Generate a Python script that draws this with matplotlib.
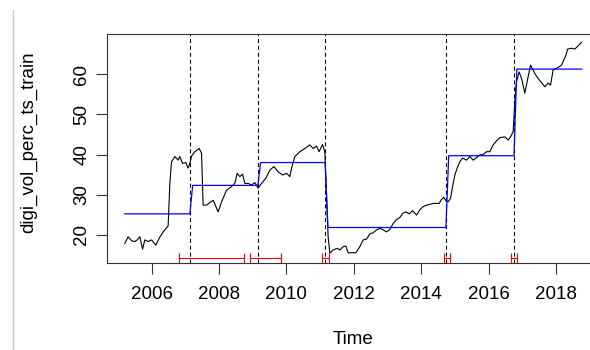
import numpy as np
import matplotlib
matplotlib.use("Agg")
import matplotlib.pyplot as plt
from matplotlib.lines import Line2D

plt.rcParams["font.family"] = ["Liberation Sans", "DejaVu Sans"]

# -- observed series (decimal year, value) -------------------------------------
time = [
    2005.208, 2005.306, 2005.407, 2005.505, 2005.573, 2005.653, 2005.733, 2005.801,
    2005.899, 2006.000, 2006.128, 2006.225, 2006.344, 2006.492, 2006.543, 2006.593,
    2006.691, 2006.789, 2006.839, 2006.919, 2007.017, 2007.085, 2007.136, 2007.186,
    2007.284, 2007.412, 2007.483, 2007.530, 2007.631, 2007.729, 2007.827, 2007.907,
    2007.975, 2008.076, 2008.224, 2008.372, 2008.470, 2008.539, 2008.619, 2008.699,
    2008.767, 2008.865, 2008.966, 2009.063, 2009.161, 2009.262, 2009.390, 2009.508,
    2009.627, 2009.754, 2009.885, 2010.004, 2010.101, 2010.152, 2010.250, 2010.398,
    2010.546, 2010.695, 2010.792, 2010.893, 2010.970, 2011.071, 2011.139, 2011.190,
    2011.237, 2011.288, 2011.386, 2011.504, 2011.584, 2011.682, 2011.762, 2011.830,
    2012.059, 2012.177, 2012.275, 2012.376, 2012.474, 2012.572, 2012.673, 2012.771,
    2012.868, 2012.969, 2013.067, 2013.165, 2013.266, 2013.364, 2013.444, 2013.541,
    2013.639, 2013.740, 2013.859, 2013.957, 2014.055, 2014.173, 2014.351, 2014.529,
    2014.600, 2014.668, 2014.728, 2014.796, 2014.867, 2014.927, 2014.995, 2015.063,
    2015.143, 2015.223, 2015.342, 2015.440, 2015.537, 2015.638, 2015.736, 2015.834,
    2015.935, 2016.033, 2016.131, 2016.231, 2016.329, 2016.477, 2016.575, 2016.647,
    2016.724, 2016.774, 2016.825, 2016.902, 2016.973, 2017.071, 2017.139, 2017.240,
    2017.367, 2017.465, 2017.566, 2017.664, 2017.762, 2017.833, 2017.910, 2018.058,
    2018.159, 2018.291, 2018.339, 2018.456, 2018.554, 2018.651, 2018.752,
]
digi_vol = [
    17.85, 19.5, 18.5, 18.3, 18.7, 19.5, 16.4, 18.7,
    18.3, 18.7, 17.4, 19.1, 20.7, 22.2, 32.8, 38.2,
    39.5, 38.6, 39.5, 37.8, 38.0, 36.6, 37.8, 39.6,
    40.7, 41.5, 40.3, 27.4, 27.4, 28.0, 28.6, 27.0,
    25.7, 28.2, 31.1, 32.0, 32.8, 35.3, 34.5, 35.1,
    32.8, 32.8, 32.4, 33.0, 31.6, 32.8, 34.1, 36.1,
    37.0, 35.7, 34.9, 35.3, 34.5, 36.6, 39.5, 40.7,
    41.5, 42.4, 41.5, 42.1, 40.7, 42.5, 40.7, 29.5,
    19.5, 15.4, 16.2, 16.6, 16.2, 17.0, 17.2, 15.5,
    15.5, 17.0, 18.7, 18.9, 20.2, 20.5, 21.2, 21.6,
    21.2, 20.7, 21.3, 22.8, 23.8, 24.3, 25.3, 25.7,
    25.2, 26.0, 24.9, 26.2, 27.0, 27.4, 27.8, 27.8,
    28.8, 29.3, 28.5, 28.2, 29.1, 32.0, 34.9, 36.6,
    38.2, 39.1, 38.6, 39.5, 38.6, 39.2, 39.9, 40.0,
    40.7, 40.7, 42.4, 43.4, 44.2, 44.4, 43.6, 44.4,
    45.7, 53.2, 58.2, 60.6, 59.0, 55.3, 58.2, 62.3,
    60.2, 59.0, 57.9, 56.9, 57.8, 57.3, 61.1, 61.7,
    62.3, 64.8, 66.3, 66.5, 66.3, 67.1, 68.0,
]

# -- breakpoints, segment means and confidence intervals -----------------------
breaks = [2007.136, 2009.152, 2011.148, 2014.730, 2016.750]
seg_means = [25.2, 32.3, 38.0, 21.8, 39.7, 61.3]
ci_lower = [2006.81, 2008.906, 2011.07, 2014.67, 2016.66]
ci_upper = [2008.74, 2009.83, 2011.25, 2014.84, 2016.83]
fit_start, fit_end = 2005.208, 2018.76
step = 1 / 12

# step function of the fitted segment means
fit_t = [fit_start]
fit_y = [seg_means[0]]
for b, m0, m1 in zip(breaks, seg_means[:-1], seg_means[1:]):
    fit_t += [b, b + step]
    fit_y += [m0, m1]
fit_t.append(fit_end)
fit_y.append(seg_means[-1])

fig = plt.figure(figsize=(5.9, 3.5), dpi=100)
ax = fig.add_axes([0.18085, 0.2494, 0.8361, 0.6526])

ax.plot(time, digi_vol, color="black", lw=0.8, zorder=3)
ax.plot(fit_t, fit_y, color="blue", lw=0.9, zorder=4)
for b in breaks:
    ax.axvline(b, color="black", lw=0.8, dashes=(3.6, 2.6), zorder=2)

ci_mid = [(lo + hi) / 2 for lo, hi in zip(ci_lower, ci_upper)]
ci_half = [(hi - lo) / 2 for lo, hi in zip(ci_lower, ci_upper)]
ax.errorbar(ci_mid, [14.2] * len(ci_mid), xerr=ci_half, fmt="none",
            ecolor="red", elinewidth=0.8, capsize=3.6, capthick=0.8, zorder=5)

ax.set_xlim(2004.67, 2019.30)
ax.set_ylim(13.02, 69.98)
ax.set_xticks([2006, 2008, 2010, 2012, 2014, 2016, 2018])
ax.set_yticks([20, 30, 40, 50, 60])
ax.tick_params(axis="both", length=7.7, width=0.8, labelsize=13.5, color="#333333")
ax.tick_params(axis="x", pad=9)
ax.tick_params(axis="y", pad=4)
for lab in ax.get_yticklabels():
    lab.set_rotation(90)
    lab.set_va("center")
for sp in ax.spines.values():
    sp.set_linewidth(0.8)
    sp.set_color("#333333")

fig.text(352.7 / 590, 1 - 340 / 350, "Time", ha="center", va="center", fontsize=13.5)
fig.text(28.3 / 590, 1 - 142.5 / 350, "digi_vol_perc_ts_train", ha="center", va="center",
         rotation=90, fontsize=13.5)

# thin gray frame line at the left edge
fig.add_artist(Line2D([12.7 / 590, 12.7 / 590], [0, 1 - 10 / 350],
                      transform=fig.transFigure, color="#c8c8c8", lw=1.0))

fig.savefig("out.png", dpi=100)
